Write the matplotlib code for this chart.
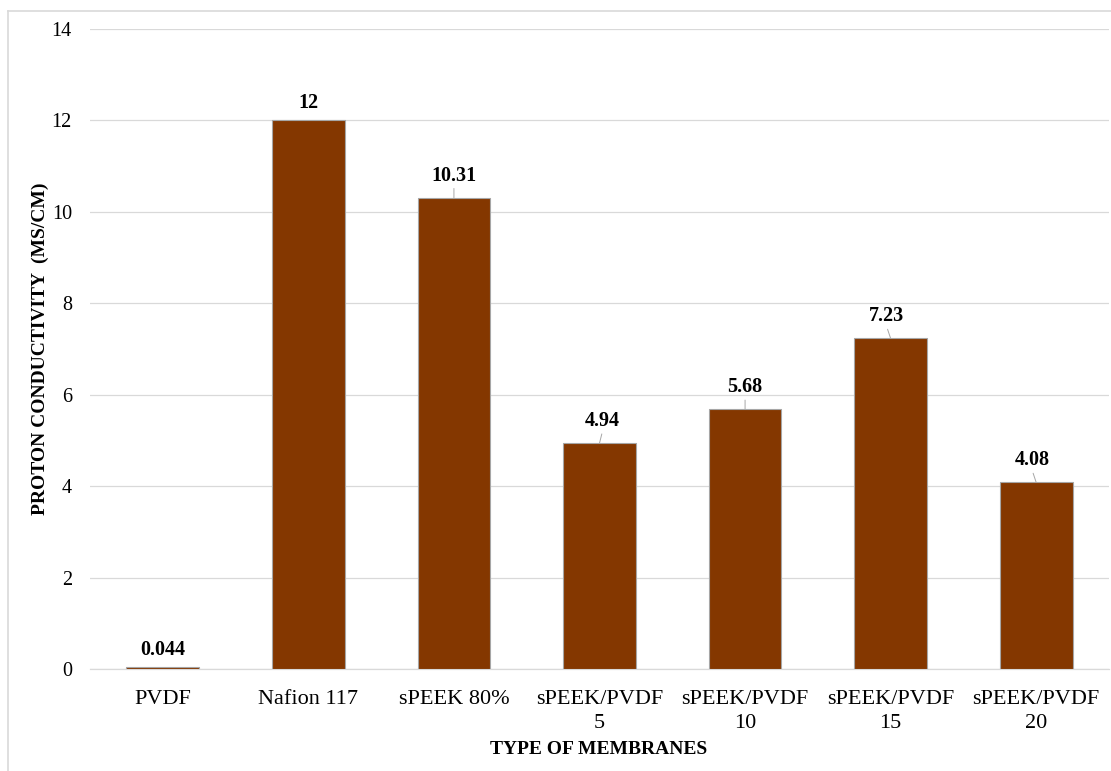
import matplotlib
matplotlib.use("Agg")
import matplotlib.pyplot as plt
from matplotlib.lines import Line2D

categories = ["PVDF", "Nafion 117", "sPEEK 80%", "sPEEK/PVDF\n5", "sPEEK/PVDF\n10", "sPEEK/PVDF\n15", "sPEEK/PVDF\n20"]
values = [0.044, 12, 10.31, 4.94, 5.68, 7.23, 4.08]
value_labels = ["0.044", "12", "10.31", "4.94", "5.68", "7.23", "4.08"]
y_ticks = [0, 2, 4, 6, 8, 10, 12, 14]

plt.rcParams['font.family'] = ['Liberation Serif', 'DejaVu Serif']

fig = plt.figure(figsize=(11.11, 7.71), dpi=100)
ax = fig.add_axes([90/1111, 1-669/771, (1109-90)/1111, (669-29)/771])

x = list(range(len(categories)))
bars = ax.bar(x, values, width=0.5, color="#843700", edgecolor="#a6a6a6", linewidth=0.8, zorder=3)

ax.set_xlim(-0.5, len(categories) - 0.5)
ax.set_ylim(0, 14)
ax.set_yticks(y_ticks)
ax.set_yticklabels([str(t) for t in y_ticks], fontsize=14.5)
ax.set_xticks(x)
ax.set_xticklabels(categories, fontsize=16, linespacing=1.35)
ax.tick_params(axis='both', length=0)
ax.tick_params(axis='y', pad=13)
ax.tick_params(axis='x', pad=15)
ax.grid(axis='y', color="#d9d9d9", linewidth=0.9, zorder=0)
for s in ["top", "right", "left"]:
    ax.spines[s].set_visible(False)
ax.spines["bottom"].set_color("#d9d9d9")
ax.spines["bottom"].set_linewidth(0.9)

leader = [False, False, True, True, True, True, True]
dxs = [0, 0, 0, 3, 0, -4, -4]
for xi, v, lab, ld, dx in zip(x, values, value_labels, leader, dxs):
    off = 22 if ld else 17
    ax.annotate(lab, xy=(xi, v), xytext=(dx, off), textcoords="offset pixels",
                ha="center", va="center", fontsize=14.5, fontweight="bold", zorder=5,
                arrowprops=dict(arrowstyle="-", color="#a6a6a6", lw=0.7, shrinkA=0, shrinkB=0,
                                relpos=(0.5, 0.0)) if ld else None)

fig.text(599/1111, 1-750/771, "TYPE OF MEMBRANES", ha="center", va="center",
         fontsize=14, fontweight="bold")
fig.text(40/1111, 1-349/771, "PROTON CONDUCTIVITY  (MS/CM)", ha="center", va="center",
         fontsize=14, fontweight="bold", rotation=90)

# figure border (chart area outline)
fig.add_artist(Line2D([8/1111, 8/1111], [0, 1-11/771], transform=fig.transFigure, color="#d9d9d9", lw=1.2))
fig.add_artist(Line2D([8/1111, 1], [1-11/771, 1-11/771], transform=fig.transFigure, color="#d9d9d9", lw=1.2))

fig.savefig("out.png", dpi=100)
